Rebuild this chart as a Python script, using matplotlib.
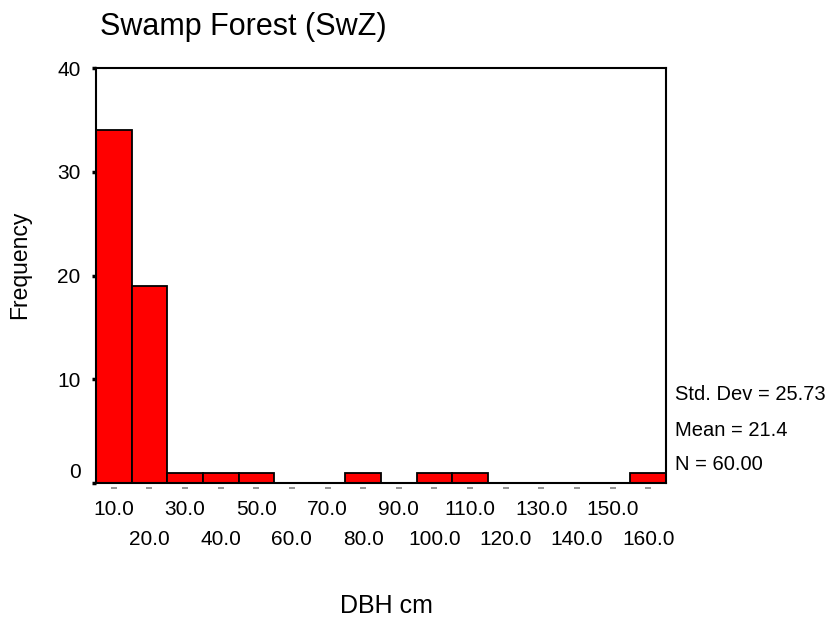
import numpy as np
import matplotlib.pyplot as plt
import matplotlib.transforms as mtransforms

plt.rcParams['font.family'] = ['Liberation Sans', 'DejaVu Sans']

# histogram data (bin centres, counts)
bin_centers = [10, 20, 30, 40, 50, 60, 70, 80, 90, 100, 110, 120, 130, 140, 150, 160]
counts = [34, 19, 1, 1, 1, 0, 0, 1, 0, 1, 1, 0, 0, 0, 0, 1]
bin_width = 10
odd_ticks = [10, 30, 50, 70, 90, 110, 130, 150]
even_ticks = [20, 40, 60, 80, 100, 120, 140, 160]
y_ticks = [0, 10, 20, 30, 40]
stats = ['Std. Dev = 25.73', 'Mean = 21.4', 'N = 60.00']

fig = plt.figure(figsize=(8.32, 6.2), dpi=100)
ax = fig.add_axes([96/832, 1-483/620, 570/832, 415/620])

ax.bar(bin_centers, counts, width=bin_width, color='#FF0000',
       edgecolor='black', linewidth=1.3, zorder=2)

ax.set_xlim(bin_centers[0] - bin_width/2, bin_centers[-1] + bin_width/2)
ax.set_ylim(0, 40)

for s in ax.spines.values():
    s.set_linewidth(1.5)

# y axis
ax.set_yticks(y_ticks)
ax.set_yticklabels([str(v) for v in y_ticks])
ax.tick_params(axis='y', direction='out', length=3, width=2.5, pad=8, labelsize=15)
off = mtransforms.ScaledTranslation(0, 13/100, fig.dpi_scale_trans)
lab0 = ax.get_yticklabels()[0]
lab0.set_transform(lab0.get_transform() + off)

# x axis, staggered labels
ax.set_xticks(odd_ticks)
ax.set_xticklabels(['%.1f' % v for v in odd_ticks])
ax.set_xticks(even_ticks, minor=True)
ax.set_xticklabels(['%.1f' % v for v in even_ticks], minor=True)
ax.tick_params(axis='x', which='major', length=0, pad=12, labelsize=15)
ax.tick_params(axis='x', which='minor', length=0, pad=34, labelsize=15)

# little grey dashes under each bin
trans = mtransforms.blended_transform_factory(ax.transData, ax.transAxes)
ax.plot(bin_centers, [-0.013] * len(bin_centers), linestyle='none', marker='_',
        markersize=5, color='#808080', mew=1.2, transform=trans, clip_on=False)

fig.text(100/832, 1-35/620, 'Swamp Forest (SwZ)', fontsize=22, va='baseline', ha='left')
fig.text(20/832, 1-265/620, 'Frequency', fontsize=16.5, rotation=90, va='center', ha='center')
fig.text(386/832, 1-606/620, 'DBH cm', fontsize=18, va='center', ha='center')

for i, s in enumerate(stats):
    fig.text(675/832, 1-(395 + 35*i)/620, s, fontsize=14.5, va='center', ha='left')

fig.savefig('out.png', dpi=100)
